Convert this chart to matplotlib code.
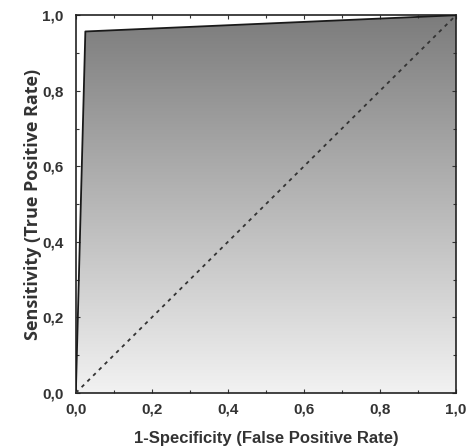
import matplotlib
matplotlib.use("Agg")
import matplotlib.pyplot as plt
import numpy as np
from matplotlib.patches import Polygon

fpr = [0.0, 0.025, 1.0]
tpr = [0.0, 0.957, 1.0]
ticks = [0.0, 0.2, 0.4, 0.6, 0.8, 1.0]
tick_labels = ["0,0", "0,2", "0,4", "0,6", "0,8", "1,0"]

plt.rcParams['font.family'] = ['Open Sans', 'DejaVu Sans']
fig = plt.figure(figsize=(4.77, 4.48), dpi=100)
ax = fig.add_axes([0.159, 0.123, 0.797, 0.843])
ax.set_xlim(0, 1)
ax.set_ylim(0, 1)

poly_pts = list(zip(fpr, tpr)) + [(1.0, 0.0)]
poly = Polygon(poly_pts, closed=True, facecolor='none', edgecolor='none', transform=ax.transData)
ax.add_patch(poly)
grad = np.linspace(0, 1, 256).reshape(-1, 1)
cmap = matplotlib.colors.LinearSegmentedColormap.from_list('g', ['#f2f2f2', '#7c7c7c'])
im = ax.imshow(grad, extent=[0, 1, 0, 1], origin='lower', cmap=cmap, aspect='auto', zorder=1)
im.set_clip_path(poly)

ax.plot(fpr, tpr, color='#1a1a1a', lw=1.3, zorder=3)
ax.plot([0, 1], [0, 1], color='#333333', lw=1.3, ls=(0, (2, 2.5)), zorder=3)

ax.set_xticks(ticks)
ax.set_yticks(ticks)
ax.set_xticklabels(tick_labels, fontweight='bold', fontsize=11, color='#333333', family=['Liberation Sans', 'DejaVu Sans'])
ax.set_yticklabels(tick_labels, fontweight='bold', fontsize=11, color='#333333', family=['Liberation Sans', 'DejaVu Sans'])
ax.set_xticks(np.arange(0.1, 1.0, 0.2), minor=True)
ax.set_yticks(np.arange(0.1, 1.0, 0.2), minor=True)
ax.tick_params(which='both', direction='in', top=True, right=True, length=3, width=0.8, colors='#333333', labelcolor='#333333')
ax.tick_params(axis='y', which='major', pad=9)
ax.tick_params(axis='x', which='major', pad=7)
ax.tick_params(which='minor', length=2)
for s in ax.spines.values():
    s.set_linewidth(1.2)
    s.set_color('#222222')

ax.set_xlabel('1-Specificity (False Positive Rate)', fontweight='bold', fontsize=12, color='#333333', labelpad=10,
              family=['Liberation Sans', 'DejaVu Sans'])
ax.set_ylabel('Sensitivity (True Positive Rate)', fontweight='bold', fontsize=13, color='#333333', labelpad=0)

fig.savefig('out.png', dpi=100)
